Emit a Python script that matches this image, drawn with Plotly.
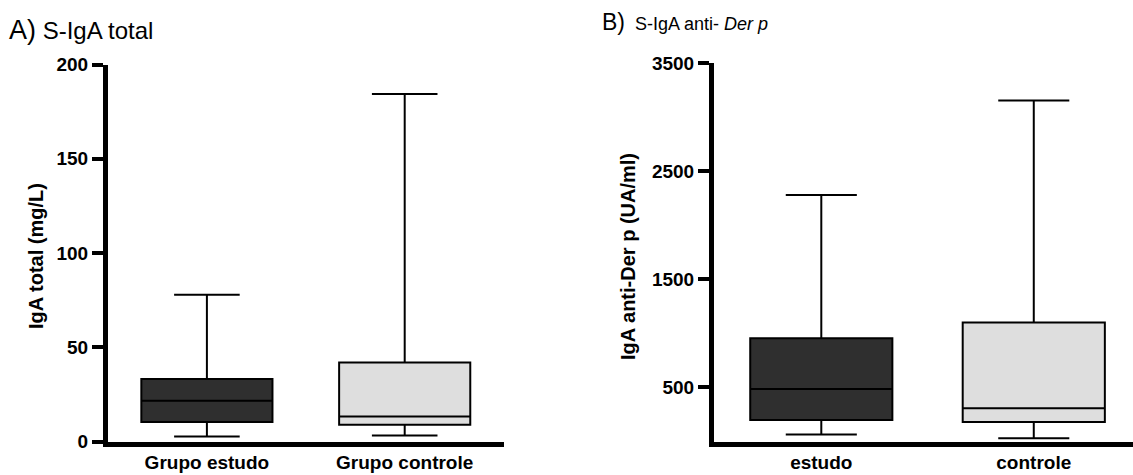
import plotly.graph_objects as go

W, H = 1133, 475

# ---------------- data ----------------
cats_a = ["Grupo estudo", "Grupo controle"]
q1_a = [10.3, 8.9]
median_a = [21.6, 13.3]
q3_a = [33.1, 41.9]
low_a = [2.7, 3.2]
up_a = [77.8, 184.4]

cats_b = ["estudo", "controle"]
q1_b = [200, 181]
median_b = [486, 307]
q3_b = [956, 1101]
low_b = [64, 29]
up_b = [2282, 3155]

ticks_a = [0, 50, 100, 150, 200]
ticks_b = [500, 1500, 2500, 3500]

fills = ["#2f2f2f", "#dedede"]

FONT = "Liberation Sans, Arial, sans-serif"

def px(x):
    return x / W

def py(y):
    return 1 - y / H

fig = go.Figure()

for i in range(2):
    fig.add_trace(go.Box(
        x=[cats_a[i]], q1=[q1_a[i]], median=[median_a[i]], q3=[q3_a[i]],
        lowerfence=[low_a[i]], upperfence=[up_a[i]],
        fillcolor=fills[i], line=dict(color="black", width=2),
        width=0.663, whiskerwidth=0.5, boxpoints=False,
        xaxis="x", yaxis="y", showlegend=False, hoverinfo="skip"))
    fig.add_trace(go.Box(
        x=[cats_b[i]], q1=[q1_b[i]], median=[median_b[i]], q3=[q3_b[i]],
        lowerfence=[low_b[i]], upperfence=[up_b[i]],
        fillcolor=fills[i], line=dict(color="black", width=2),
        width=0.669, whiskerwidth=0.5, boxpoints=False,
        xaxis="x2", yaxis="y2", showlegend=False, hoverinfo="skip"))

tickfont = dict(family=FONT, size=19, color="black", weight="bold")
xtickfont = dict(family=FONT, size=19, color="black", weight="bold")

bottom = py(441.5)

common_x = dict(showline=True, linecolor="black", linewidth=5, ticks="",
                showgrid=False, zeroline=False, tickfont=xtickfont,
                ticklabelstandoff=0, automargin=False)
common_y = dict(showline=True, linecolor="black", linewidth=5,
                ticks="outside", ticklen=11, tickwidth=4, tickcolor="black",
                showgrid=False, zeroline=False, tickfont=tickfont,
                automargin=False)

fig.update_layout(
    template="none",
    width=W, height=H,
    margin=dict(l=0, r=0, t=0, b=0, pad=0, autoexpand=False),
    paper_bgcolor="white", plot_bgcolor="white",
    showlegend=False,
    xaxis=dict(domain=[px(108), px(503.6)], range=[-0.5, 1.5], type="category",
               categoryorder="array", categoryarray=cats_a, anchor="y", **common_x),
    yaxis=dict(domain=[bottom, py(64.5)], range=[0, 200], tickvals=ticks_a,
               anchor="x", **common_y),
    xaxis2=dict(domain=[px(714), 1.0], range=[-0.505, 1.467], type="category",
                categoryorder="array", categoryarray=cats_b, anchor="y2", **common_x),
    yaxis2=dict(domain=[bottom, py(63.3)], range=[0, 3500], tickvals=ticks_b,
                anchor="x2", **common_y),
)

annotations = [
    dict(text="<span style='font-size:27px'>A)</span> S-IgA total",
         x=px(7), y=py(30), xref="paper", yref="paper",
         xanchor="left", yanchor="middle", showarrow=False,
         font=dict(family=FONT, size=24, color="black")),
    dict(text="<span style='font-size:23px'>B)</span>  S-IgA anti- <i>Der p</i>",
         x=px(600), y=py(22), xref="paper", yref="paper",
         xanchor="left", yanchor="middle", showarrow=False,
         font=dict(family=FONT, size=18, color="black")),
    dict(text="<b>IgA total (mg/L)</b>", textangle=-90,
         x=px(36), y=py(256), xref="paper", yref="paper",
         xanchor="center", yanchor="middle", showarrow=False,
         font=dict(family=FONT, size=20, color="black")),
    dict(text="<b>IgA anti-Der p (UA/ml)</b>", textangle=-90,
         x=px(628), y=py(257), xref="paper", yref="paper",
         xanchor="center", yanchor="middle", showarrow=False,
         font=dict(family=FONT, size=20, color="black")),
]
fig.update_layout(annotations=annotations)

fig.write_html("out.html")
